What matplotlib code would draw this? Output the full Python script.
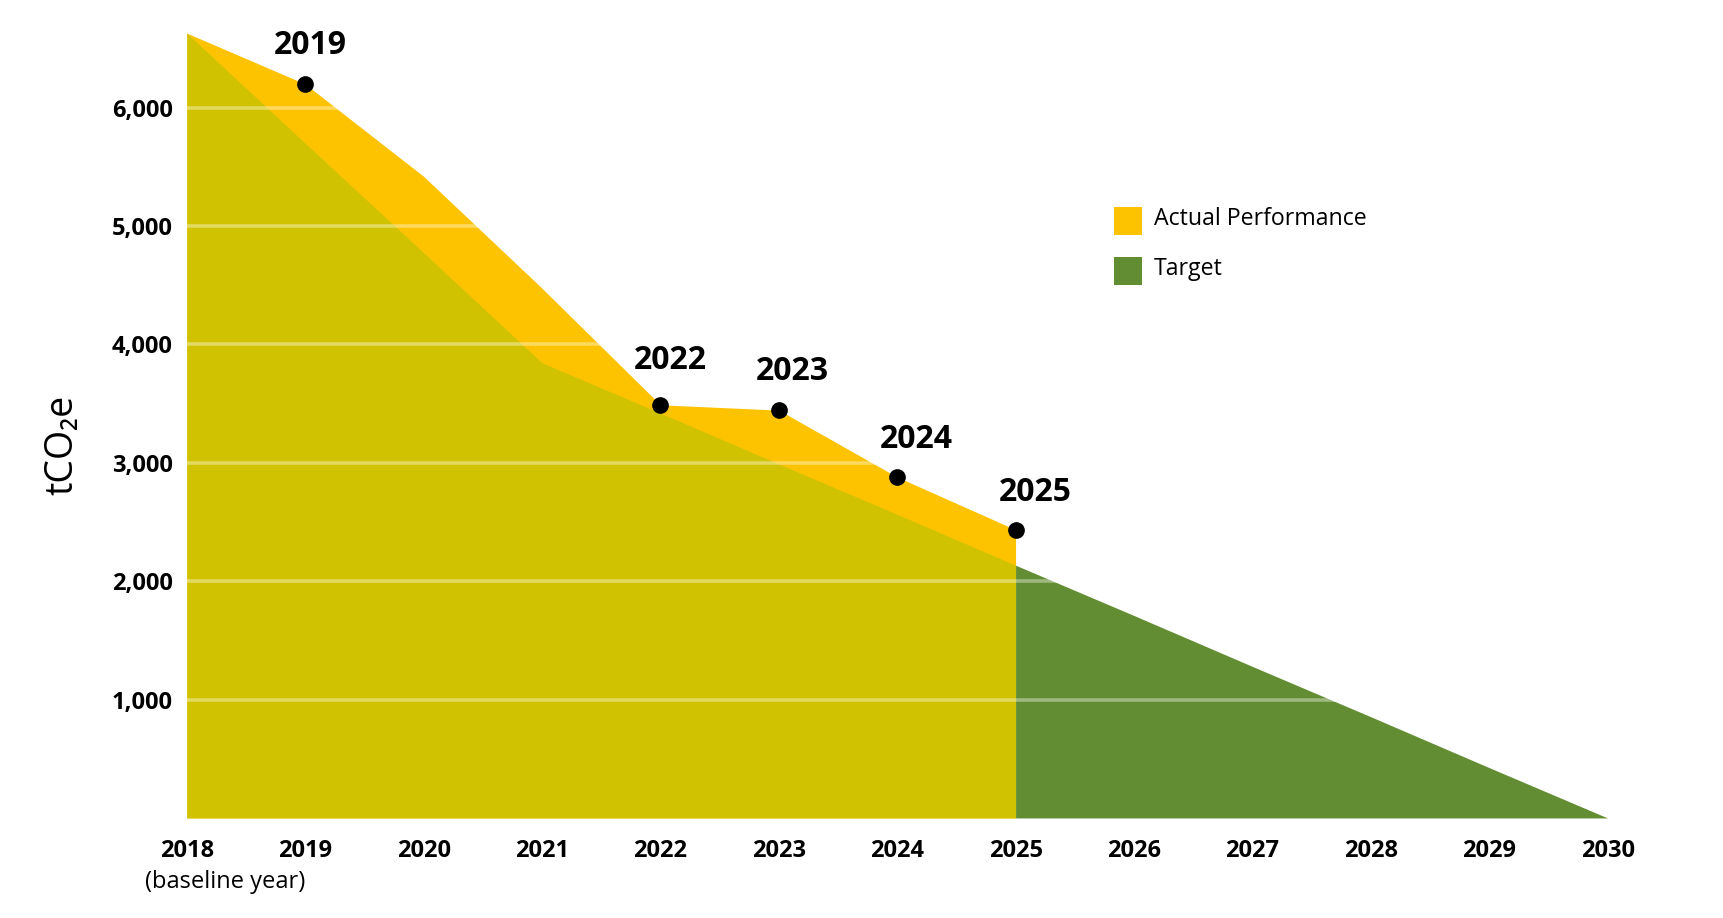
import matplotlib
matplotlib.use("Agg")
import matplotlib.pyplot as plt
from matplotlib.patches import Rectangle

# ---- data ----
years = [2018, 2019, 2020, 2021, 2022, 2023, 2024, 2025, 2026, 2027, 2028, 2029, 2030]
actual_years = [2018, 2019, 2020, 2021, 2022, 2023, 2024, 2025]
actual = [6630, 6200, 5420, 4475, 3490, 3445, 2880, 2435]
target = [6630, 5700, 4775, 3845, 3420, 2990, 2565, 2135, 1710, 1280, 855, 425, 0]
labelled_years = [2019, 2022, 2023, 2024, 2025]
y_ticks = [1000, 2000, 3000, 4000, 5000, 6000]
legend_labels = ["Actual Performance", "Target"]
y_label = "tCO₂e"
baseline_note = "(baseline year)"

# ---- colours ----
C_ACTUAL = "#FDC300"
C_OVERLAP = "#D1C200"
C_TARGET = "#638D32"

FONT = ["Open Sans", "DejaVu Sans"]
plt.rcParams["font.family"] = FONT

fig = plt.figure(figsize=(17.23, 9.18), dpi=100)
ax = fig.add_axes([0.1084, 0.109, 0.933 - 0.1084, 0.973 - 0.109])

n_act = len(actual_years)
# actual performance area
ax.fill_between(actual_years, 0, actual, color=C_ACTUAL, linewidth=0, zorder=1)
# target area under actual period (overlap colour)
ax.fill_between(years[:n_act], 0, target[:n_act], color=C_OVERLAP, linewidth=0, zorder=2)
# target area beyond
ax.fill_between(years[n_act - 1:], 0, target[n_act - 1:], color=C_TARGET, linewidth=0, zorder=2)

# grid lines
for yv in y_ticks:
    ax.axhline(yv, color="white", alpha=0.38, linewidth=2.6, zorder=3)

# dots and labels
offsets = {2019: (4, 28), 2022: (7, 32), 2023: (10, 28), 2024: (14, 27), 2025: (14, 27)}
for yr in labelled_years:
    v = actual[actual_years.index(yr)]
    ax.plot([yr], [v], "o", color="black", markersize=11, zorder=5)
    dx, dy = offsets[yr]
    ax.annotate(str(yr), (yr, v), xytext=(dx, dy), textcoords="offset points",
                ha="center", va="center", fontsize=23, fontweight="bold",
                color="black", zorder=6)

ax.set_xlim(2018, 2030)
ax.set_ylim(0, 6700)
ax.set_xticks(years)
ax.set_xticklabels([str(y) for y in years], fontsize=17, fontweight="bold")
ax.set_yticks(y_ticks)
ax.set_yticklabels([f"{v:,}" for v in y_ticks], fontsize=17, fontweight="bold")
ax.tick_params(axis="both", length=0)
ax.tick_params(axis="x", pad=15)
ax.tick_params(axis="y", pad=10)
for s in ax.spines.values():
    s.set_visible(False)

ax.text(2018.32, -0.066, baseline_note, transform=ax.get_xaxis_transform(),
        ha="center", va="top", fontsize=17, color="black")

fig.text(0.036, 0.515, y_label, rotation=90, ha="center", va="center",
         fontsize=27, color="black", family=FONT)

# legend
leg_colors = [C_ACTUAL, C_TARGET]
sq_w, sq_h = 28 / 1723, 28 / 918
leg_x = 1114 / 1723
leg_ys = [1 - 235 / 918, 1 - 285 / 918]
for col, lab, ly in zip(leg_colors, legend_labels, leg_ys):
    fig.patches.append(Rectangle((leg_x, ly), sq_w, sq_h, transform=fig.transFigure,
                                 facecolor=col, edgecolor="none"))
    fig.text(leg_x + sq_w + 12 / 1723, ly + sq_h / 2 + 0.002, lab, ha="left", va="center",
             fontsize=16.7, color="black")

fig.savefig("out.png", dpi=100, facecolor="white")
